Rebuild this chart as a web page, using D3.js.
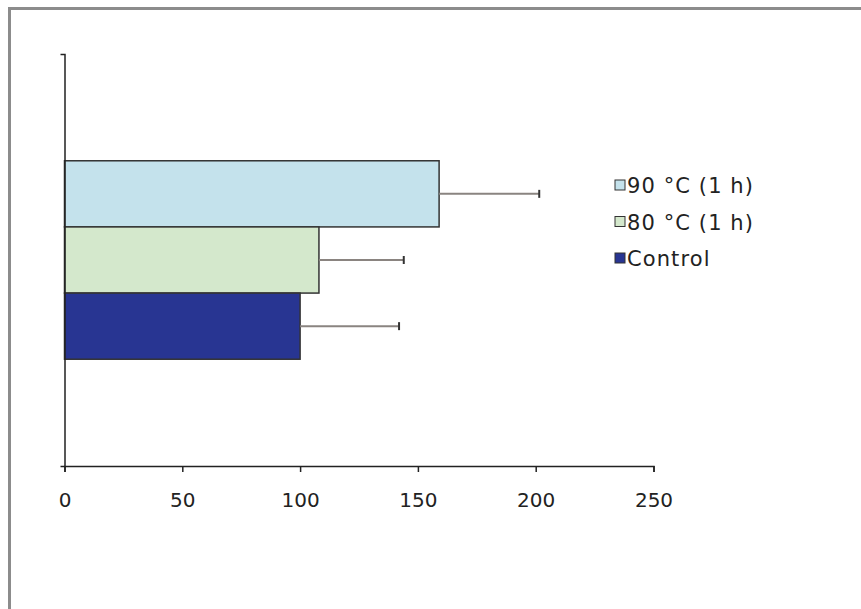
<!DOCTYPE html>
<html>
<head>
<meta charset="utf-8">
<script src="https://cdn.jsdelivr.net/npm/d3@7"></script>
<style>
  body { margin: 0; background: #fff; }
  svg text { font-family: "DejaVu Sans", Verdana, sans-serif; fill: #222; }
</style>
</head>
<body>
<svg id="chart" width="861" height="609"></svg>
<script>
// data
var series = ["90 °C (1 h)", "80 °C (1 h)", "Control"];
var values = [159, 108, 100];
var errors = [42.5, 36, 42];
var colors = ["#c4e2ec", "#d4e8cc", "#283592"];
var xTicks = [0, 50, 100, 150, 200, 250];

var svg = d3.select("#chart");

// outer frame (runs off the right and bottom edge like the original)
svg.append("rect")
    .attr("x", 9.5).attr("y", 8.5)
    .attr("width", 900).attr("height", 700)
    .attr("fill", "#fff")
    .attr("stroke", "#8c8c8c")
    .attr("stroke-width", 3);

var margin = {top: 54, left: 64.5, right: 207.5, bottom: 143};
var width = 861 - margin.left - margin.right;
var height = 609 - margin.top - margin.bottom;

var g = svg.append("g")
    .attr("transform", "translate(" + margin.left + "," + margin.top + ")");

var xScale = d3.scaleLinear().domain([0, 250]).range([0, width]);

// one category, three series stacked top to bottom
var yScale = d3.scaleBand().domain(["all"]).range([0, height]).paddingOuter(0.538).paddingInner(0);
var yInner = d3.scaleBand().domain(series).range([0, yScale.bandwidth()]);

var rows = series.map(function(s, i){
    return {name: s, value: values[i], err: errors[i], color: colors[i]};
});

var bars = g.selectAll(".bar")
    .data(rows)
    .enter()
    .append("g")
    .attr("class", "bar")
    .attr("transform", d => "translate(0," + (yScale("all") + yInner(d.name)) + ")");

bars.append("rect")
    .attr("x", 0)
    .attr("y", 0)
    .attr("width", d => xScale(d.value))
    .attr("height", yInner.bandwidth())
    .attr("fill", d => d.color)
    .attr("stroke", "#333")
    .attr("stroke-width", 1.5);

// error bars
bars.append("line")
    .attr("x1", d => xScale(d.value))
    .attr("x2", d => xScale(d.value + d.err))
    .attr("y1", yInner.bandwidth() / 2)
    .attr("y2", yInner.bandwidth() / 2)
    .attr("stroke", "#8a8480")
    .attr("stroke-width", 2);

bars.append("line")
    .attr("x1", d => xScale(d.value + d.err))
    .attr("x2", d => xScale(d.value + d.err))
    .attr("y1", yInner.bandwidth() / 2 - 4)
    .attr("y2", yInner.bandwidth() / 2 + 4)
    .attr("stroke", "#333")
    .attr("stroke-width", 2);

// axes
var xAxis = d3.axisBottom(xScale).tickValues(xTicks).tickSize(6).tickPadding(21).tickFormat(d3.format("d"));
var gx = g.append("g")
    .attr("transform", "translate(0," + height + ")")
    .call(xAxis);
gx.select(".domain").attr("stroke", "#222").attr("stroke-width", 1.5);
gx.selectAll(".tick line").attr("stroke", "#222").attr("stroke-width", 1.5);
gx.selectAll(".tick text")
    .style("font-size", "20px")
    .style("font-family", "DejaVu Sans, Verdana, sans-serif")
    .attr("fill", "#222");

var yAxis = d3.axisLeft(yScale).tickValues([]).tickSizeOuter(4);
var gy = g.append("g").call(yAxis);
gy.select(".domain").attr("stroke", "#222").attr("stroke-width", 1.5);

// legend
var legend = svg.append("g").attr("transform", "translate(615,0)");
var ly = [185, 221.5, 258];
var items = legend.selectAll(".leg")
    .data(rows)
    .enter()
    .append("g")
    .attr("transform", (d, i) => "translate(0," + ly[i] + ")");

items.append("rect")
    .attr("x", 0).attr("y", -5)
    .attr("width", 10).attr("height", 10)
    .attr("fill", d => d.color)
    .attr("stroke", "#333")
    .attr("stroke-width", 1);

items.append("text")
    .attr("x", 12)
    .attr("y", 1)
    .attr("dominant-baseline", "central")
    .style("font-size", "21px")
    .style("letter-spacing", "1.1px")
    .text(d => d.name);
</script>
</body>
</html>
